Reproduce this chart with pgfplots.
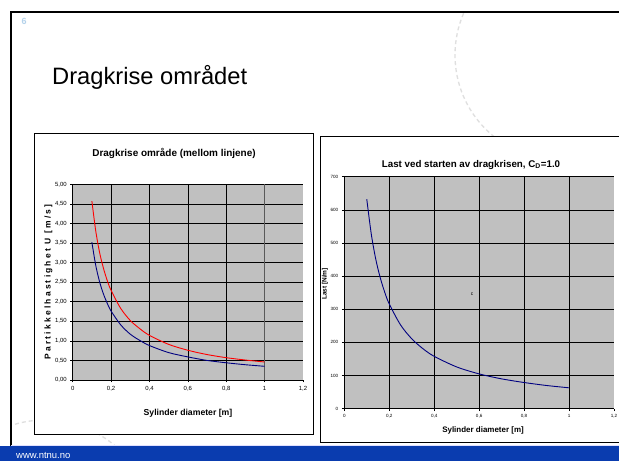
\documentclass[border=0pt]{standalone}
\usepackage{pgfplots}
\pgfplotsset{compat=1.18}
\usepackage{fontspec}
\setmainfont{Liberation Sans}

\definecolor{plotgray}{RGB}{192,192,192}
\definecolor{navyline}{RGB}{0,0,128}
\definecolor{ntnublue}{RGB}{10,60,175}
\definecolor{numblue}{RGB}{180,210,235}

\pgfplotsset{
  excelstyle/.style={
    scale only axis,
    anchor=south west,
    axis background/.style={fill=plotgray},
    axis x line*=bottom, axis y line*=left,
    axis line style={black, line width=0.6bp, -},
    grid=major,
    major grid style={black, line width=0.6bp},
    tick style={black, line width=0.6bp},
    tick align=outside,
    major tick length=2.5bp,
    xmin=0, xmax=1.2,
    xtick={0,0.2,0.4,0.6,0.8,1},
    extra x ticks={1.2},
    extra x tick style={grid=none},
    /pgf/number format/assume math mode=true,
    xticklabel style={/pgf/number format/use comma},
    clip=false,
  }
}

\begin{document}
\begin{tikzpicture}[x=1bp,y=1bp]
\useasboundingbox (0,0) rectangle (619,461);
\fill[white] (0,0) rectangle (619,461);
\coordinate (LA) at (72.7,81);
\coordinate (RA) at (344.3,52.3);

% faint decorative arcs
\begin{scope}
  \clip (13,15) rectangle (619,448);
  \draw[gray!25, line width=1.3bp, dash pattern=on 4bp off 3bp] (560,406) circle (105);
  \draw[gray!25, line width=1.3bp, dash pattern=on 4bp off 3bp] (45,-67) circle (108);
\end{scope}

% slide frame and footer
\draw[black, line width=2.5bp] (11,14) -- (11,449) -- (619,449);
\fill[blue!12] (11,14) rectangle (619,16);
\fill[ntnublue] (0,0) rectangle (619,14.5);
\node[white, anchor=west, inner sep=0, font=\fontsize{9.5}{10}\selectfont] at (16,6) {www.ntnu.no};
\node[numblue, inner sep=0, font=\bfseries\fontsize{9}{10}\selectfont] at (24,440) {6};
\node[anchor=base west, inner sep=0, font=\fontsize{23.8}{26}\selectfont] at (52,376) {Dragkrise området};

% chart boxes
\draw[black, line width=0.8bp, fill=white] (34,27) rectangle (313,328);
\draw[black, line width=0.8bp, fill=white] (320,19) rectangle (625,325);

% left chart
\begin{axis}[excelstyle,
  at={(LA)}, width=230.3bp, height=195.7bp,
  ymin=0, ymax=5,
  ytick={0,0.5,1,1.5,2,2.5,3,3.5,4,4.5,5},
  ticklabel style={font=\fontsize{6}{7}\selectfont},
  yticklabel style={/pgf/number format/.cd, fixed, fixed zerofill, precision=2, use comma},
]
\draw[line width=1.6bp, black!65] (axis cs:1,0) -- (axis cs:1,5);
\addplot[red, line width=0.9bp, smooth] coordinates {
  (0.10,4.57) (0.12,3.81) (0.14,3.26) (0.16,2.86) (0.18,2.54) (0.20,2.29)
  (0.25,1.83) (0.30,1.52) (0.35,1.31) (0.40,1.14) (0.50,0.91) (0.60,0.76)
  (0.70,0.65) (0.80,0.57) (0.90,0.51) (1.00,0.46)
};
\addplot[navyline, line width=0.9bp, smooth] coordinates {
  (0.10,3.52) (0.12,2.93) (0.14,2.51) (0.16,2.20) (0.18,1.96) (0.20,1.76)
  (0.25,1.41) (0.30,1.17) (0.35,1.01) (0.40,0.88) (0.50,0.70) (0.60,0.59)
  (0.70,0.50) (0.80,0.44) (0.90,0.39) (1.00,0.35)
};
\end{axis}
\node[font=\bfseries\fontsize{10}{11}\selectfont] at (174,308) {Dragkrise område (mellom linjene)};
\node[font=\bfseries\fontsize{8.7}{10}\selectfont] at (188,48) {Sylinder diameter [m]};
\node[rotate=90, font=\bfseries\fontsize{8.5}{10}\selectfont\addfontfeature{LetterSpace=26}] at (48.5,179) {Partikkelhastighet U [m/s]};

% right chart
\begin{axis}[excelstyle,
  at={(RA)}, width=269.7bp, height=232bp,
  ymin=0, ymax=700,
  ytick={0,100,200,300,400,500,600,700},
  ticklabel style={font=\fontsize{4.6}{5}\selectfont},
]
\addplot[navyline, line width=0.9bp, smooth] coordinates {
  (0.10,632) (0.12,527) (0.14,451) (0.16,395) (0.18,351) (0.20,316)
  (0.25,253) (0.30,211) (0.35,181) (0.40,158) (0.50,126) (0.60,105)
  (0.70,90) (0.80,79) (0.90,70) (1.00,63)
};
\end{axis}
\node[font=\bfseries\fontsize{9.8}{11}\selectfont] at (471,296) {Last ved starten av dragkrisen, C\textsubscript{D}=1.0};
\node[font=\bfseries\fontsize{8}{10}\selectfont] at (483,31) {Sylinder diameter [m]};
\node[rotate=90, font=\bfseries\fontsize{6.5}{8}\selectfont] at (325,177) {Last [N/m]};
\node[font=\fontsize{5}{6}\selectfont] at (472,167) {c};
\end{tikzpicture}
\end{document}
